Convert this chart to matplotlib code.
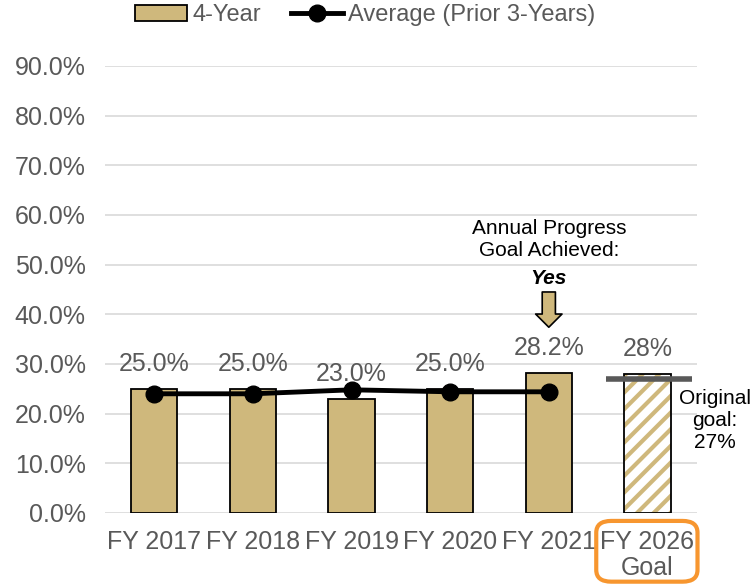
import matplotlib
matplotlib.use('Agg')

import numpy as np
import matplotlib.pyplot as plt
from matplotlib.patches import FancyBboxPatch

plt.rcParams['font.family'] = ['Liberation Sans', 'DejaVu Sans']
plt.rcParams['hatch.linewidth'] = 3

categories = ["FY 2017", "FY 2018", "FY 2019", "FY 2020", "FY 2021", "FY 2026\nGoal"]
four_year = [25.0, 25.0, 23.0, 25.0, 28.2]
four_labels = ["25.0%", "25.0%", "23.0%", "25.0%", "28.2%"]
average = [24.0, 24.0, 24.8, 24.4, 24.4]
goal_value = 28
goal_label = "28%"
original_goal = 27

gold = "#CFB87C"
grey = "#595959"

fig = plt.figure(figsize=(7.5, 5.84), dpi=100)
ax = fig.add_axes([0.14, 0.1216, 0.789, 0.7654])

x = np.arange(len(categories))
bars = ax.bar(x[:5], four_year, width=0.47, color=gold, edgecolor="black", linewidth=1.3, zorder=2, label="4-Year")
# hatched goal bar
ax.bar(x[5], goal_value, width=0.47, color="white", edgecolor=gold, hatch="//", linewidth=0, zorder=2)
ax.bar(x[5], goal_value, width=0.47, fill=False, edgecolor="black", linewidth=1.3, zorder=3)

line, = ax.plot(x[:5], average, color="black", linewidth=3.5, marker="o", markersize=12, zorder=4,
                label="Average (Prior 3-Years)")

ax.hlines(original_goal, 4.58, 5.45, color="#595959", linewidth=4, zorder=5)
ax.text(5.68, 18.7, "Original\ngoal:\n27%", ha="center", va="center", fontsize=15, color="black", linespacing=1.2)

for xi, v, lab in zip(x[:5], four_year, four_labels):
    ax.text(xi, v + 5.0, lab, ha="center", va="center", fontsize=18, color=grey)
ax.text(x[5], goal_value + 5.0, goal_label, ha="center", va="center", fontsize=18, color=grey)

# annotation above FY 2021
ax.text(4.0, 55.1, "Annual Progress\nGoal Achieved:", ha="center", va="center", fontsize=15, color="black", linespacing=1.2)
ax.text(4.0, 47.3, "Yes", ha="center", va="center", fontsize=15, color="black", fontweight="bold", fontstyle="italic")
ax.annotate("", xy=(4.0, 37.4), xytext=(4.0, 44.5),
            arrowprops=dict(arrowstyle="simple,head_width=1.9,head_length=0.95,tail_width=0.95",
                            mutation_scale=10, shrinkA=0, shrinkB=0,
                            facecolor=gold, edgecolor="black", linewidth=1.2))

ax.set_xlim(-0.5, 5.5)
ax.set_ylim(0, 90)
ax.set_yticks(np.arange(0, 91, 10))
ax.set_yticklabels([f"{v:.1f}%" for v in np.arange(0, 91, 10)])
ax.set_xticks(x)
ax.set_xticklabels(categories, linespacing=1.1)
ax.tick_params(axis="both", length=0, labelsize=18, labelcolor=grey)
ax.tick_params(axis="y", pad=14)
ax.tick_params(axis="x", pad=12)
ax.grid(axis="y", color="#D9D9D9", linewidth=1.2, zorder=0)
ax.set_axisbelow(True)
for s in ax.spines.values():
    s.set_visible(False)

# orange box around goal label
box = FancyBboxPatch((0.795, 0.004), 0.135, 0.104, boxstyle="round,pad=0,rounding_size=0.02",
                     transform=fig.transFigure, fill=False, edgecolor="#F7962F", linewidth=3)
fig.patches.append(box)

ax.legend([bars, line], ["4-Year", "Average (Prior 3-Years)"], loc="center", bbox_to_anchor=(0.44, 1.114),
          ncol=2, frameon=False, fontsize=17, labelcolor=grey, handlelength=2.2, handletextpad=0.2,
          columnspacing=1.3)

fig.savefig("out.png", dpi=100)
